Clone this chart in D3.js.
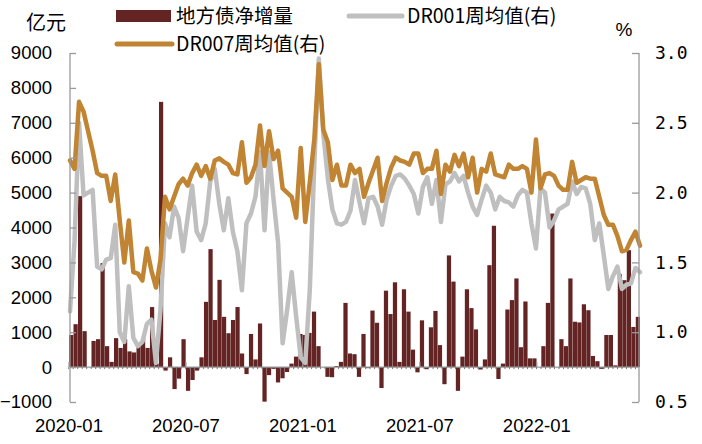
<!DOCTYPE html>
<html lang="zh">
<head>
<meta charset="UTF-8" />
<title>地方债净增量与DR001/DR007</title>
<style>
  body { margin:0; background:#fff; }
  #chart { display:block; }
  .tick text { fill:#000; }
</style>
</head>
<body>
<svg id="chart" width="702" height="444"></svg>
<script src="https://d3js.org/d3.v7.min.js"></script>
<script>
// weekly data, weeks ending on Sunday from 2020-01-05
const localBond = [ // 地方债净增量, 亿元
  920,1230,4900,1030,0,750,800,2980,600,150,
  830,550,800,450,420,620,830,550,1720,100,
  7600,-100,280,-630,-330,800,-680,-370,-100,280,
  1870,3380,1350,2500,1440,970,1350,1720,390,-200,
  950,220,1250,-990,-230,-50,-440,-320,-140,100,
  300,950,920,980,1590,600,0,-280,-290,30,
  150,1840,390,370,-280,950,-30,1620,1270,-600,
  2190,1520,2430,150,2230,1590,500,-150,1340,-60,
  1140,1610,630,-490,3200,2450,-680,300,2230,1690,
  1080,-70,220,2920,4050,-340,100,1650,1920,2540,
  570,1880,250,250,0,600,1840,4400,0,800,
  600,2540,1300,1280,1800,1630,320,170,-50,920,
  920,50,2660,2490,3350,1150,1440
];
const dr001 = [ // DR001周均值, %
  1.15,1.65,2.50,1.98,2.00,2.02,1.47,1.45,1.52,1.53,
  1.77,1.00,0.93,1.33,0.96,0.90,0.93,1.06,1.09,0.78,
  1.16,1.78,1.68,1.90,1.82,1.58,1.82,2.05,1.72,1.66,
  1.78,2.08,2.17,1.92,1.73,1.96,1.72,1.58,1.30,1.78,
  1.85,1.97,2.29,1.73,2.29,1.95,1.64,0.92,1.16,1.43,
  1.11,0.82,0.78,1.30,2.20,2.96,2.42,2.10,1.88,1.78,
  1.77,1.79,1.87,2.09,1.93,1.78,1.96,1.97,1.90,1.77,
  1.95,2.05,2.12,2.13,2.10,2.05,1.99,1.85,2.04,2.11,
  1.92,2.09,1.79,2.06,2.08,2.14,2.08,2.12,2.00,1.90,
  1.84,1.95,2.05,2.00,1.88,1.97,1.94,1.93,1.90,1.98,
  2.02,2.00,1.78,1.60,2.03,2.00,1.75,1.80,1.88,1.90,
  1.92,2.08,1.99,2.04,2.03,1.92,1.66,1.78,1.55,1.31,
  1.40,1.47,1.31,1.34,1.35,1.46,1.43
];
const dr007 = [ // DR007周均值, %
  2.23,2.17,2.65,2.58,2.44,2.30,2.14,2.12,2.12,1.94,
  2.13,1.80,1.50,1.80,1.43,1.42,1.37,1.60,1.44,1.32,
  1.52,1.97,1.88,1.97,2.06,2.10,2.05,2.14,2.20,2.12,
  2.19,2.10,2.23,2.245,2.22,2.20,2.14,2.13,2.36,2.07,
  2.11,2.20,2.48,2.19,2.44,2.24,2.30,2.03,2.00,1.97,
  1.82,2.32,1.79,2.07,2.38,2.92,2.45,2.36,2.09,2.20,
  2.05,2.05,2.20,2.14,2.17,1.97,2.07,2.16,2.25,1.94,
  2.07,2.18,2.25,2.23,2.22,2.20,2.28,2.28,2.14,2.17,
  2.17,2.30,1.99,2.20,2.15,2.27,2.19,2.28,2.11,2.25,
  2.00,2.17,2.15,2.28,2.13,2.12,2.11,2.20,2.17,2.17,
  2.19,2.17,2.00,2.38,2.03,2.13,2.14,2.12,2.05,2.02,
  2.02,2.22,2.07,2.09,2.11,2.10,2.10,1.97,1.84,1.77,
  1.77,1.69,1.58,1.59,1.66,1.72,1.62
];
const tickLabels = ["2020-01","2020-07","2021-01","2021-07","2022-01"];
const leftTicks  = [-1000,0,1000,2000,3000,4000,5000,6000,7000,8000,9000];
const rightTicks = [0.5,1.0,1.5,2.0,2.5,3.0];
const legendNames = ["地方债净增量","DR001周均值(右)","DR007周均值(右)"];

const firstWeek = new Date(2020, 0, 5);
const weeks = d3.timeWeek.range(firstWeek, d3.timeWeek.offset(firstWeek, localBond.length));
const fmtMonth = d3.timeFormat("%Y-%m");

const colBar = "#632423", colDR001 = "#BFBFBF", colDR007 = "#C08432", colAxis = "#9a9a9a";
const latin = "'Liberation Sans', Arial, sans-serif";
const cjk = "'Noto Sans CJK SC', 'Noto Sans', sans-serif";

const svg = d3.select("#chart");
const idx = d3.range(weeks.length);

const xBand  = d3.scaleBand().domain(idx).range([69, 640]).paddingInner(0.06);
const xPoint = d3.scalePoint().domain(idx).range([70, 640]);
const yL = d3.scaleLinear().domain([-1000, 9000]).range([402, 53]);
const yR = d3.scaleLinear().domain([0.5, 3.0]).range([402, 53]);

// bars
svg.append("g").selectAll("rect")
  .data(localBond).join("rect")
  .attr("x", (d, i) => xBand(i))
  .attr("width", xBand.bandwidth())
  .attr("y", d => yL(Math.max(0, d)))
  .attr("height", d => Math.abs(yL(d) - yL(0)))
  .attr("fill", colBar);

// zero line with small category ticks
const zero = svg.append("g");
zero.append("line")
  .attr("x1", 70).attr("x2", 639).attr("y1", yL(0)).attr("y2", yL(0))
  .attr("stroke", colAxis).attr("stroke-width", 1.2);
zero.selectAll("line.ct").data(idx).join("line").attr("class", "ct")
  .attr("x1", i => xBand(i) - 0.3).attr("x2", i => xBand(i) - 0.3)
  .attr("y1", yL(0)).attr("y2", yL(0) + 2)
  .attr("stroke", "#777").attr("stroke-width", 1);

// x labels at the first week of each labelled month
const labelIdx = tickLabels.map(t => idx.find(i => fmtMonth(weeks[i]) === t));
zero.selectAll("line.mt").data(labelIdx).join("line").attr("class", "mt")
  .attr("x1", i => xBand(i)).attr("x2", i => xBand(i))
  .attr("y1", yL(0) - 5).attr("y2", yL(0))
  .attr("stroke", colAxis).attr("stroke-width", 1.2);
svg.append("g").selectAll("text")
  .data(labelIdx).join("text")
  .attr("x", i => xBand(i)).attr("y", 432)
  .attr("text-anchor", "middle")
  .style("font-family", latin).style("font-size", "18.5px")
  .text((i, j) => tickLabels[j]);

// lines
const lineR = d3.line().x((d, i) => xPoint(i)).y(d => yR(d));
svg.append("path").datum(dr001).attr("d", lineR)
  .attr("fill", "none").attr("stroke", colDR001).attr("stroke-width", 4.5)
  .attr("stroke-linejoin", "round").attr("stroke-linecap", "round");
svg.append("path").datum(dr007).attr("d", lineR)
  .attr("fill", "none").attr("stroke", colDR007).attr("stroke-width", 4.5)
  .attr("stroke-linejoin", "round").attr("stroke-linecap", "round");

// left axis
const gL = svg.append("g").attr("transform", "translate(70,0)")
  .call(d3.axisLeft(yL).tickValues(leftTicks).tickSize(-6).tickPadding(18).tickFormat(d3.format("d")));
gL.select(".domain").attr("stroke", colAxis).attr("stroke-width", 1.3).attr("d", `M-0,${yL(9000)}V${yL(-1000)}`);
gL.selectAll(".tick line").attr("stroke", colAxis).attr("stroke-width", 1.3);
gL.selectAll(".tick text").style("font-family", latin).style("font-size", "18.5px");

// right axis
const gR = svg.append("g").attr("transform", "translate(639,0)")
  .call(d3.axisRight(yR).tickValues(rightTicks).tickSize(-7).tickPadding(16).tickFormat(d3.format(".1f")));
gR.select(".domain").attr("stroke", colAxis).attr("stroke-width", 1.3).attr("d", `M0,${yR(3.0)}V${yR(0.5)}`);
gR.selectAll(".tick line").attr("stroke", colAxis).attr("stroke-width", 1.3);
gR.selectAll(".tick text").style("font-family", "'DejaVu Sans Mono', monospace").style("font-size", "18px");

// unit labels
svg.append("text").attr("x", 46).attr("y", 23).attr("dy", "0.35em")
  .attr("text-anchor", "middle").style("font-family", cjk).style("font-size", "20px").text("亿元");
svg.append("text").attr("x", 624).attr("y", 29).attr("dy", "0.35em")
  .attr("text-anchor", "middle").style("font-family", latin).style("font-size", "19px").text("%");

// legend
const lg = svg.append("g");
lg.append("rect").attr("x", 116).attr("y", 10).attr("width", 55).attr("height", 12).attr("fill", colBar);
lg.append("line").attr("x1", 349).attr("x2", 402).attr("y1", 16).attr("y2", 16)
  .attr("stroke", colDR001).attr("stroke-width", 5).attr("stroke-linecap", "round");
lg.append("line").attr("x1", 117).attr("x2", 172).attr("y1", 44).attr("y2", 44)
  .attr("stroke", colDR007).attr("stroke-width", 5).attr("stroke-linecap", "round");
[[176, 16], [407, 16], [176, 44]].forEach(([x, y], i) => {
  lg.append("text").attr("x", x).attr("y", y).attr("dy", "0.36em")
    .style("font-family", cjk).style("font-size", "19.5px").text(legendNames[i]);
});
</script>
</body>
</html>
